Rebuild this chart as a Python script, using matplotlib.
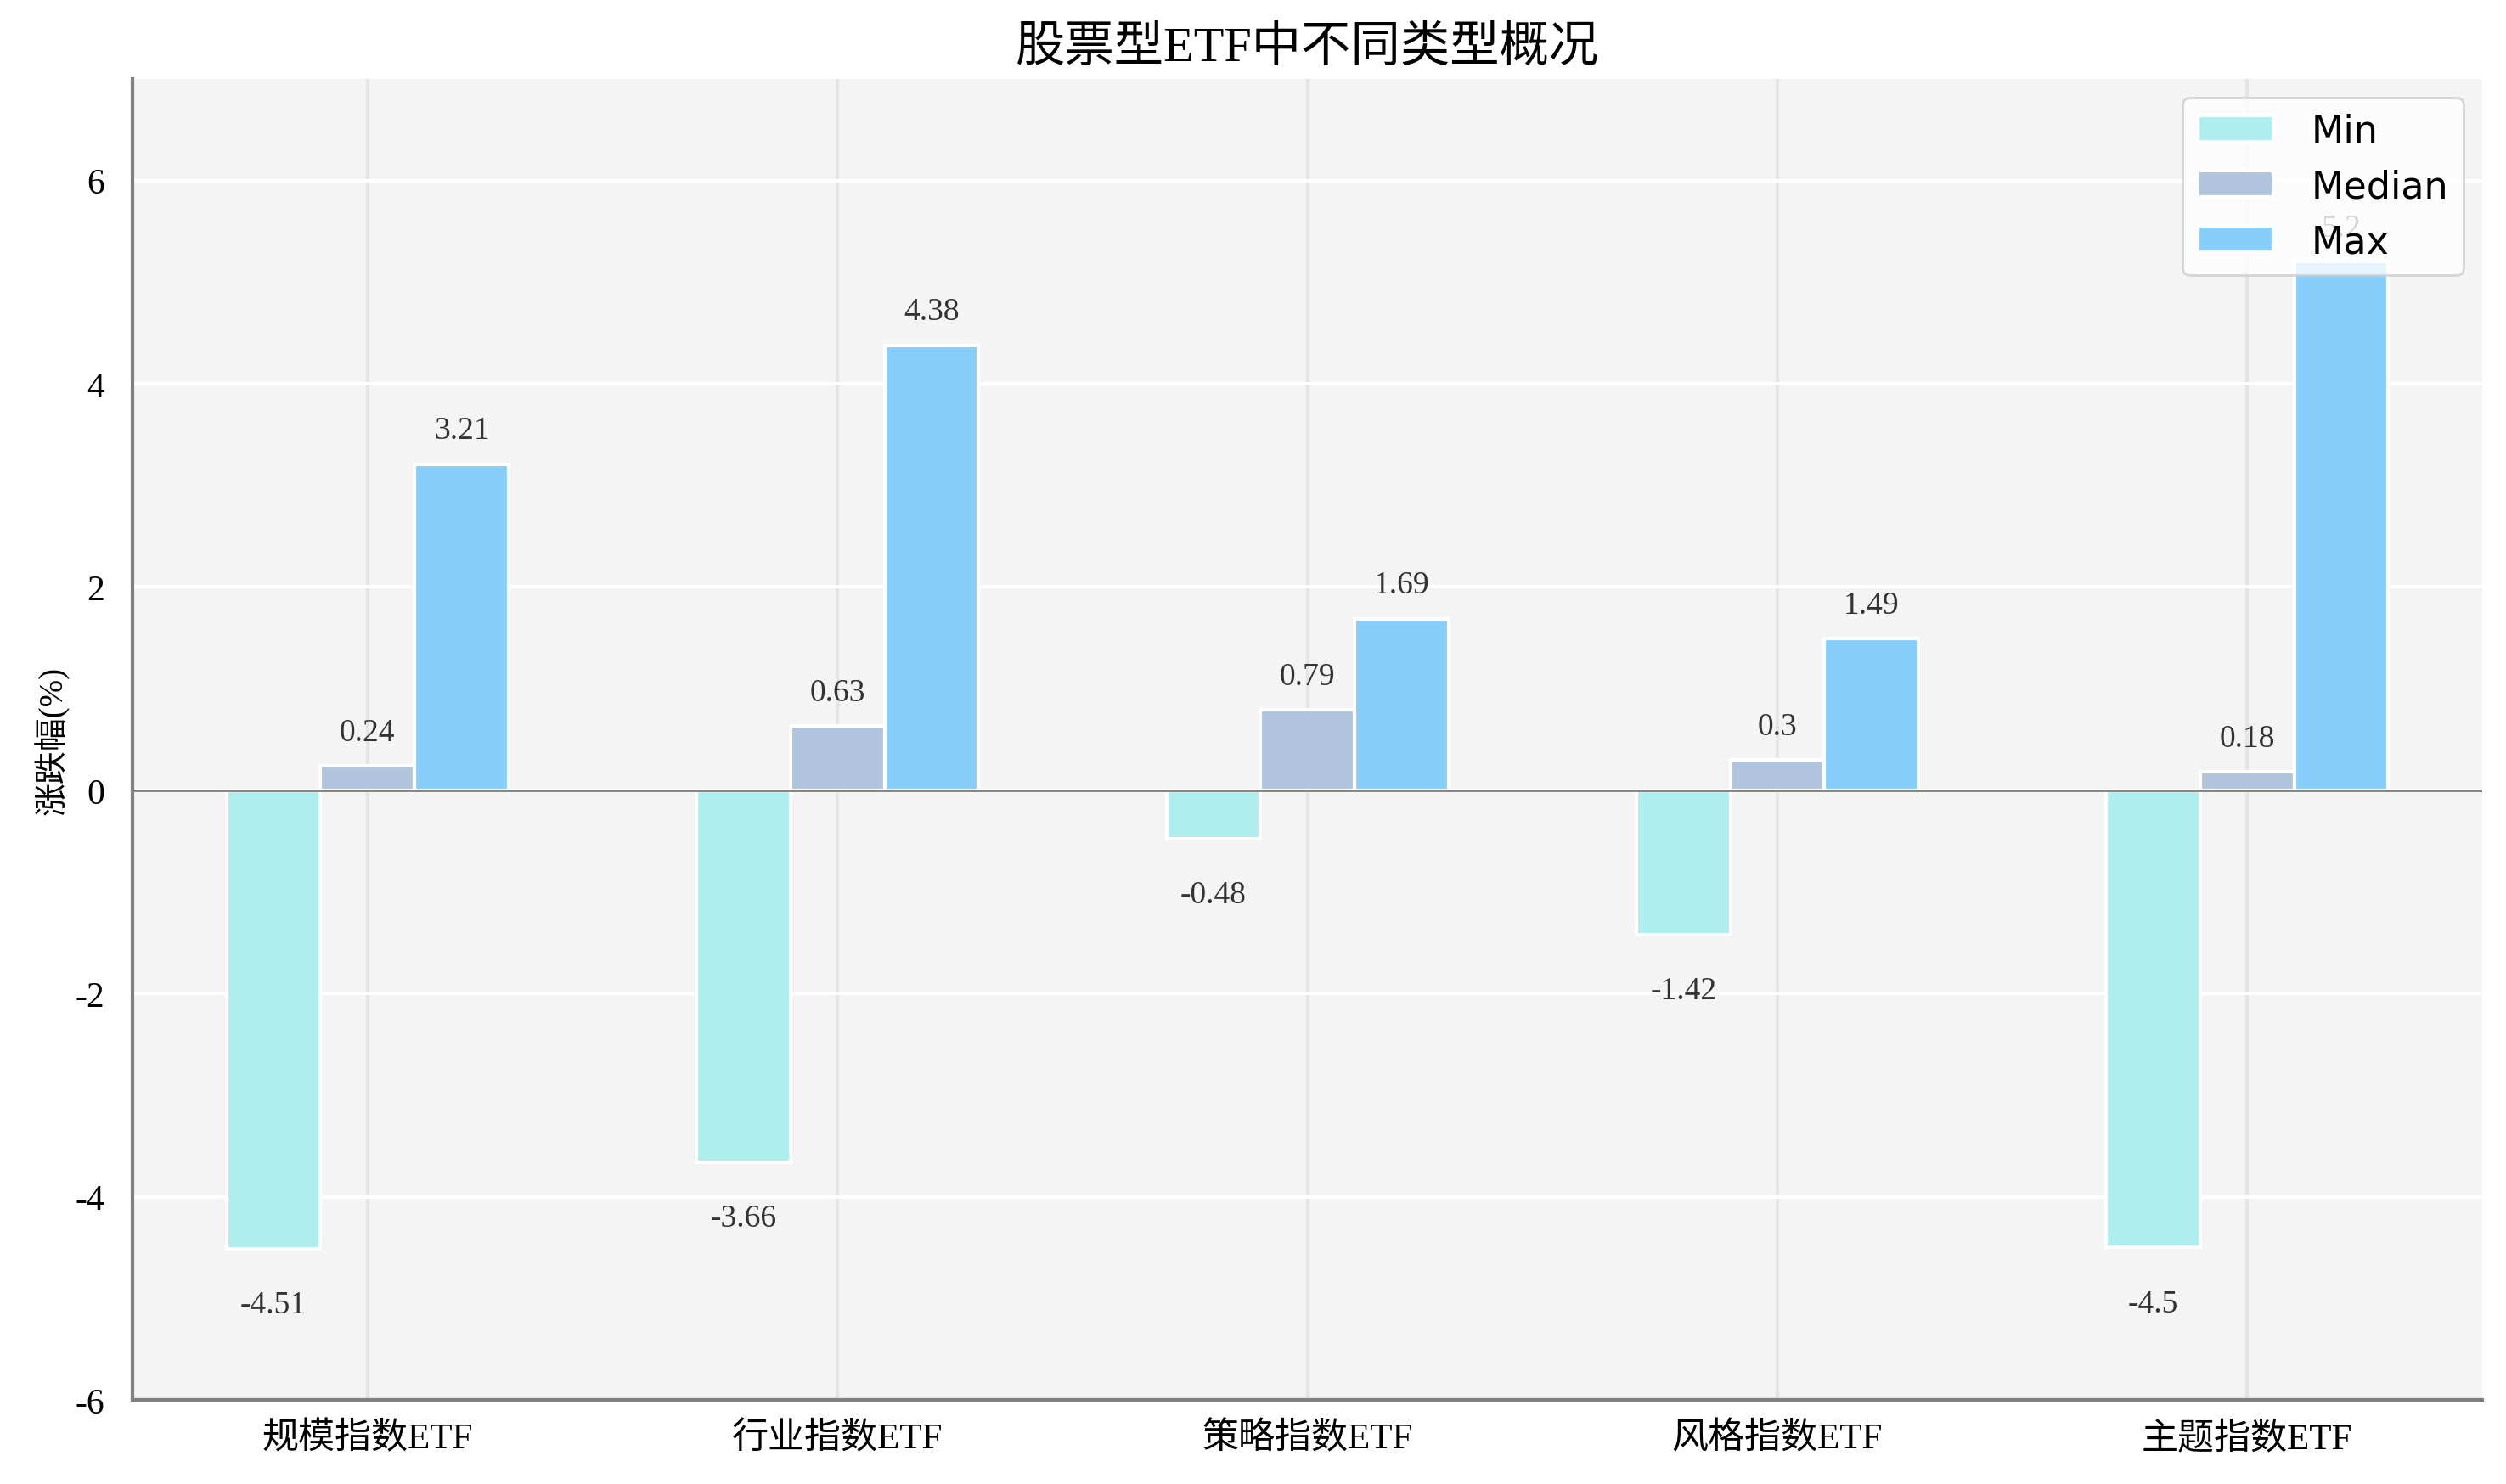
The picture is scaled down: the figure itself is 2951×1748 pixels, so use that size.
import matplotlib
matplotlib.use("Agg")
import matplotlib.pyplot as plt
import numpy as np

plt.rcParams['font.family'] = ['Liberation Serif', 'Noto Sans CJK SC', 'DejaVu Sans']
plt.rcParams['axes.unicode_minus'] = False

# data
categories = ['规模指数ETF', '行业指数ETF', '策略指数ETF', '风格指数ETF', '主题指数ETF']
min_vals = [-4.51, -3.66, -0.48, -1.42, -4.5]
median_vals = [0.24, 0.63, 0.79, 0.3, 0.18]
max_vals = [3.21, 4.38, 1.69, 1.49, 5.2]
series_names = ['Min', 'Median', 'Max']
colors = ['#AFEEEE', '#B0C4DE', '#87CEFA']

fig = plt.figure(figsize=(14.755, 8.745), dpi=200)
ax = fig.add_axes([0.0529, 0.0566, 0.9376, 0.8897])
ax.set_facecolor('#f4f4f4')

x = np.arange(len(categories))
width = 0.2
offsets = [-width, 0, width]

for vals, name, color, off in zip([min_vals, median_vals, max_vals], series_names, colors, offsets):
    bars = ax.bar(x + off, vals, width, color=color, edgecolor='white', linewidth=1.5, label=name, zorder=3)
    for b, v in zip(bars, vals):
        xc = b.get_x() + b.get_width() / 2
        if v >= 0:
            ax.text(xc, v + 0.33, f'{v:g}', ha='center', va='center', fontsize=13.5, color='#333333', zorder=2)
        else:
            ax.text(xc, v - 0.55, f'{v:g}', ha='center', va='center', fontsize=13.5, color='#333333', zorder=2)

ax.axhline(0, color='#808080', linewidth=1, zorder=4)

ax.set_xlim(-0.5, len(categories) - 0.5)
ax.set_ylim(-6, 7)
ax.set_yticks(range(-6, 7, 2))
ax.set_xticks(x)
ax.set_xticklabels(categories, fontsize=15.5)
ax.tick_params(axis='y', labelsize=15, length=0, pad=12)
ax.tick_params(axis='x', length=0, pad=9)

ax.yaxis.grid(True, color='white', linewidth=1.5, zorder=0)
ax.xaxis.grid(True, color='#e4e4e4', linewidth=1.5, zorder=0)
ax.set_axisbelow(True)

for s in ['top', 'right']:
    ax.spines[s].set_visible(False)
for s in ['left', 'bottom']:
    ax.spines[s].set_color('#808080')
    ax.spines[s].set_linewidth(1.5)

ax.set_ylabel('涨跌幅(%)', fontsize=14, labelpad=2)
ax.set_title('股票型ETF中不同类型概况', fontsize=21, pad=8)

leg = ax.legend(loc='upper right', framealpha=0.8, edgecolor='#cccccc', handletextpad=1.0,
                prop={'family': 'DejaVu Sans', 'size': 16})
leg.set_zorder(10)

fig.savefig('out.png', dpi=200)
